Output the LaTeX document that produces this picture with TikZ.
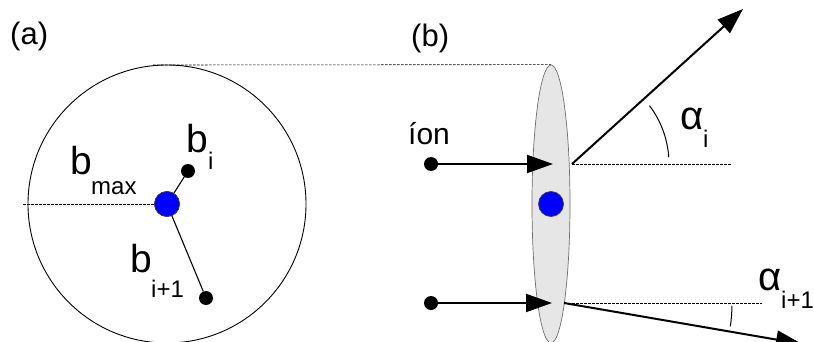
\documentclass[tikz,border=0pt]{standalone}
\usepackage{fontspec}
\setmainfont{Liberation Sans}
\usetikzlibrary{arrows.meta,shapes.geometric,calc}
\definecolor{lensfill}{RGB}{230,230,230}
\definecolor{lensdraw}{RGB}{110,110,110}
\begin{document}
\begin{tikzpicture}[x=1pt,y=-1pt,
  thinline/.style={line width=0.9pt},
  dashline/.style={line width=0.6pt,dash pattern=on 2.5pt off 1.5pt},
  arr/.style={line width=2pt,-{Triangle[length=26pt,width=18pt]}},
  blackdot/.style={circle,fill=black,inner sep=0pt,minimum size=14pt},
  bluedot/.style={circle,fill=blue,draw=black!75,line width=0.7pt,inner sep=0pt,minimum size=25pt},
  lbl/.style={anchor=base west,inner sep=0pt,font=\fontsize{31}{34}\selectfont},
  big/.style={anchor=base west,inner sep=0pt,font=\fontsize{39}{42}\selectfont},
  greek/.style={anchor=base west,inner sep=0pt,font=\fontsize{40}{42}\selectfont},
  sub/.style={anchor=base west,inner sep=0pt,font=\fontsize{24}{26}\selectfont}]
\useasboundingbox (0,0) rectangle (814,342);
% ---------- panel (a) ----------
\node[lbl] (la) at (10,45) {(a)};
\node[circle,draw,thinline,inner sep=0pt,minimum size=278pt] (disk) at (167,204) {};
\coordinate (dl) at (23,204);
\coordinate (dt) at (153,65);
\node[bluedot] (nucA) at (167,204) {};
\node[blackdot] (bi) at (188,171) {};
\node[blackdot] (bii) at (206,298) {};
\draw[line width=1.1pt] (nucA.center) -- (bi);
\draw[line width=1.1pt] (nucA.center) -- (bii);
\node[bluedot] at (167,204) {};
\draw[dashline] (dl) -- (nucA.west);
\node[big] (bmax) at (70,175) {b};
\node[sub] (bmaxs) at (91,194) {max};
\node[big] (bil) at (186,153) {b};
\node[sub] (bils) at (208,170) {i};
\node[big] (biil) at (130,272) {b};
\node[sub] (biils) at (151,297) {i+1};
% ---------- panel (b) ----------
\node[lbl] (lb) at (411,47) {(b)};
\node[ellipse,draw=lensdraw,fill=lensfill,line width=0.7pt,inner sep=0pt,
      minimum width=38pt,minimum height=278pt] (lens) at (551,204) {};
\draw[dashline] (dt) -- (lens.north);
\node[bluedot] (nucB) at (551,204) {};
\node[blackdot] (ion1) at (431,164) {};
\node[blackdot] (ion2) at (431,303) {};
\coordinate (t1) at (553,164);
\coordinate (t2) at (552,303);
\coordinate (c1) at (572,164);
\coordinate (c2) at (564,303);
\coordinate (e1) at (743,9);
\coordinate (e2) at (802,344);
\coordinate (h1) at (731,164);
\coordinate (h2) at (762,303);
\draw[arr] (ion1) -- (t1);
\draw[arr] (ion2) -- (t2);
\draw[arr] (c1) -- (e1);
\draw[arr] (c2) -- (e2);
\draw[dashline] (c1) -- (h1);
\draw[dashline] (c2) -- (h2);
\draw[line width=1pt] ($(c1)+(4:97pt)$) arc[start angle=4,end angle=37,radius=97pt];
\draw[line width=1pt] ($(c2)+(-1:168pt)$) arc[start angle=-1,end angle=-8,radius=168pt];
\node[lbl,font=\fontsize{30}{32}\selectfont] (ion) at (408,145) {íon};
\node[greek] (ai) at (680,130) {α};
\node[sub] (ais) at (703,148) {i};
\node[greek] (aii) at (758,290) {α};
\node[sub] (aiis) at (781,308) {i+1};
\end{tikzpicture}
\end{document}
